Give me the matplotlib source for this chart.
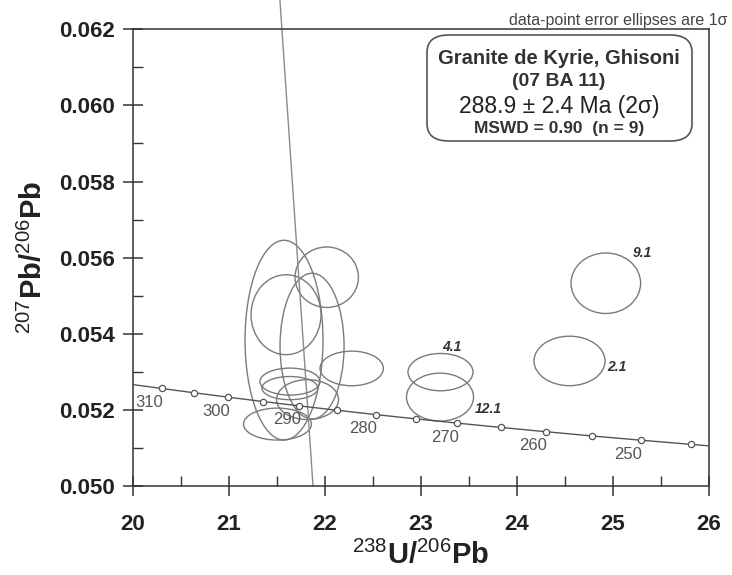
import matplotlib
matplotlib.use('Agg')
import matplotlib.pyplot as plt
from matplotlib.patches import Ellipse, FancyBboxPatch
from matplotlib.ticker import MultipleLocator

plt.rcParams['font.family'] = ['Liberation Sans', 'DejaVu Sans']
plt.rcParams['mathtext.fontset'] = 'custom'
plt.rcParams['mathtext.rm'] = 'Liberation Sans'
plt.rcParams['mathtext.it'] = 'Liberation Sans:italic'
plt.rcParams['mathtext.bf'] = 'Liberation Sans:bold'

# concordia ticks (Ma) and their positions (238U/206Pb, 207Pb/206Pb)
ages = [245, 250, 255, 260, 265, 270, 275, 280, 285, 290, 295, 300, 305, 310]
conc_x = [25.815, 25.289, 24.783, 24.297, 23.830, 23.379, 22.945, 22.527,
          22.123, 21.733, 21.356, 20.992, 20.640, 20.299]
conc_y = [0.051093, 0.051204, 0.051315, 0.051427, 0.051539, 0.051652, 0.051764,
          0.051877, 0.051991, 0.052105, 0.052219, 0.052334, 0.052448, 0.052563]
label_ages = [250, 260, 270, 280, 290, 300, 310]
# curve ends at the frame
conc_end_x = [20.0, 26.0]
conc_end_y = [0.052664, 0.051054]

# error ellipses: centre x, centre y, full width, full height
ell_x = [22.018, 21.573, 21.594, 21.865, 22.278, 21.635, 21.635, 21.818, 21.505,
         24.925, 24.547, 23.203, 23.198]
ell_y = [0.055486, 0.053832, 0.054501, 0.053675, 0.053089, 0.052743, 0.052572,
         0.052270, 0.051627, 0.055328, 0.053286, 0.052992, 0.052336]
ell_w = [0.660, 0.812, 0.729, 0.667, 0.660, 0.625, 0.583, 0.646, 0.708,
         0.725, 0.740, 0.677, 0.698]
ell_h = [0.00159, 0.00525, 0.00210, 0.00383, 0.00091, 0.00071, 0.00061,
         0.00105, 0.00084, 0.00159, 0.00130, 0.00098, 0.00126]

spot_names = ['9.1', '2.1', '4.1', '12.1']
spot_x = [25.31, 25.04, 23.32, 23.70]
spot_y = [0.05611, 0.05313, 0.05366, 0.05201]

# discordia line
disc_x = [21.875, 21.527]
disc_y = [0.0500, 0.0629]

fig = plt.figure(figsize=(7.32, 5.75), dpi=100)
ax = fig.add_axes([0.1817, 0.1548, 0.7869, 0.7942])

for x, y, w, h in zip(ell_x, ell_y, ell_w, ell_h):
    ax.add_patch(Ellipse((x, y), w, h, fill=False, edgecolor='#7a7a7a', lw=1.0))

ax.plot([conc_end_x[0]] + conc_x[::-1] + [conc_end_x[1]],
        [conc_end_y[0]] + conc_y[::-1] + [conc_end_y[1]],
        color='#555555', lw=1.0, zorder=3)
ax.plot(conc_x, conc_y, 'o', ms=4.5, mfc='white', mec='#555555', mew=0.9, zorder=4)

for a, x, y in zip(ages, conc_x, conc_y):
    if a in label_ages:
        ax.annotate(str(a), (x, y), xytext=(-9, -10), textcoords='offset points',
                    ha='center', va='center', fontsize=12, color='#555555')

for name, x, y in zip(spot_names, spot_x, spot_y):
    ax.text(x, y, name, fontsize=10, fontweight='bold', fontstyle='italic',
            color='#333333', ha='center', va='center')

ax.plot(disc_x, disc_y, color='#8a8a8a', lw=1.0, clip_on=False, zorder=2)

ax.set_xlim(20, 26)
ax.set_ylim(0.050, 0.062)
ax.xaxis.set_major_locator(MultipleLocator(1))
ax.xaxis.set_minor_locator(MultipleLocator(0.5))
ax.yaxis.set_major_locator(MultipleLocator(0.002))
ax.yaxis.set_minor_locator(MultipleLocator(0.001))
ax.yaxis.set_major_formatter(matplotlib.ticker.FormatStrFormatter('%.3f'))

ax.tick_params(which='major', direction='inout', length=14, width=1.1, color='#333333')
ax.tick_params(which='minor', direction='in', length=7, width=1.0, color='#333333')
ax.tick_params(axis='x', which='major', pad=13, labelsize=16)
ax.tick_params(axis='y', which='major', pad=6, labelsize=16)
for lab in ax.get_xticklabels() + ax.get_yticklabels():
    lab.set_fontweight('bold')
    lab.set_color('#222222')
for s in ax.spines.values():
    s.set_color('#333333')
    s.set_linewidth(1.1)

ax.set_xlabel(r'$^{238}$U/$^{206}$Pb', fontsize=21, fontweight='bold', color='#222222', labelpad=4)
ax.set_ylabel(r'$^{207}$Pb/$^{206}$Pb', fontsize=21, fontweight='bold', color='#222222', labelpad=8)

fig.text(0.993, 0.965, 'data-point error ellipses are 1σ', ha='right', va='center',
         fontsize=11.5, color='#444444')

box = FancyBboxPatch((427 / 732, 1 - 141 / 575), 265 / 732, 106 / 575,
                     boxstyle='round,pad=0,rounding_size=0.03',
                     transform=fig.transFigure, fill=True, facecolor='white',
                     edgecolor='#555555', lw=1.2, zorder=5)
fig.patches.append(box)
cx = 559 / 732
fig.text(cx, 1 - 58 / 575, 'Granite de Kyrie, Ghisoni', ha='center', va='center',
         fontsize=14.5, fontweight='bold', color='#333333', zorder=6)
fig.text(cx, 1 - 82 / 575, '(07 BA 11)', ha='center', va='center',
         fontsize=14, fontweight='bold', color='#333333', zorder=6)
fig.text(cx, 1 - 107 / 575, '288.9 ± 2.4 Ma (2σ)', ha='center', va='center',
         fontsize=16.5, color='#222222', zorder=6)
fig.text(cx, 1 - 129 / 575, 'MSWD = 0.90  (n = 9)', ha='center', va='center',
         fontsize=12.5, fontweight='bold', color='#333333', zorder=6)

fig.savefig('out.png', dpi=100)
